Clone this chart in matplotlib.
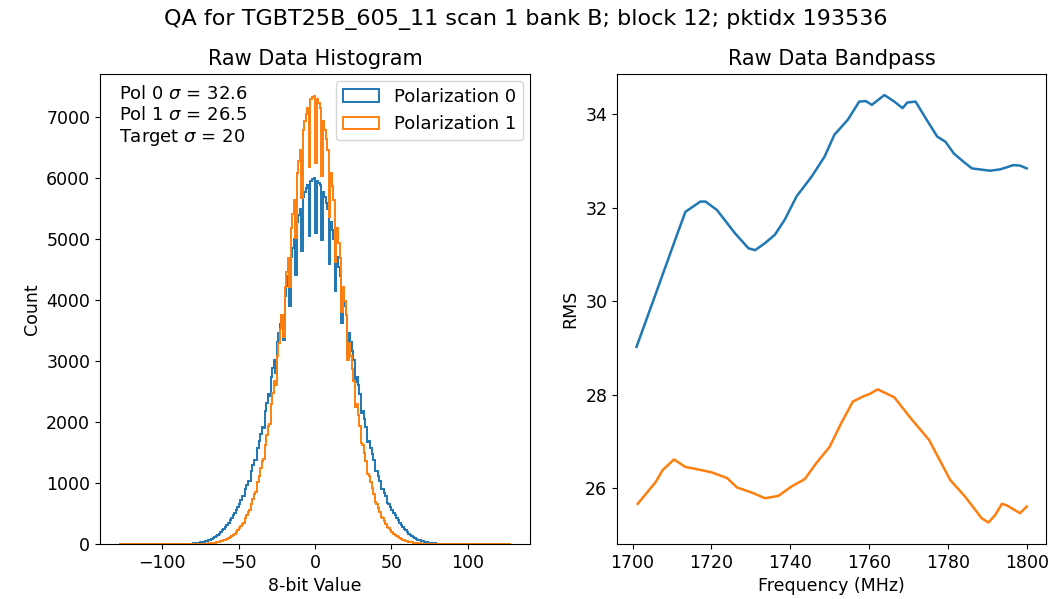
import matplotlib
matplotlib.use("Agg")
import matplotlib.pyplot as plt
import numpy as np

# 8-bit sample values -80..80 (counts outside this range are zero)
VMIN, VMAX = -80, 80
pol0_counts = [
    8, 10, 13, 16, 20, 24, 29, 35, 42, 50,
    60, 70, 80, 95, 110, 130, 150, 170, 195, 220,
    250, 280, 310, 350, 390, 430, 470, 510, 560, 610,
    660, 720, 780, 780, 900, 970, 1040, 1040, 1200, 1290,
    1380, 1380, 1580, 1690, 1800, 1920, 1900, 2180, 2320, 2460,
    2420, 2740, 2880, 3020, 2800, 3310, 3460, 3610, 3760, 3350,
    4070, 4230, 4390, 3900, 4710, 4860, 5010, 4420, 5280, 5400,
    5500, 4800, 5690, 5770, 5840, 5890, 5050, 5960, 5990, 6000,
    5100, 5960, 5930, 5890, 4980, 5770, 5690, 5600, 5500, 4600,
    5280, 5150, 5010, 4150, 4710, 4550, 4390, 3620, 4070, 3910,
    3760, 3100, 3460, 3310, 3170, 3020, 2650, 2740, 2600, 2460,
    2150, 2180, 2050, 1920, 1670, 1690, 1580, 1480, 1380, 1200,
    1200, 1120, 1040, 900, 900, 840, 780, 670, 660, 610,
    560, 510, 470, 430, 390, 350, 310, 280, 250, 220,
    195, 170, 150, 130, 110, 95, 80, 70, 60, 50,
    42, 35, 29, 24, 20, 16, 13, 10, 8, 6,
    4,
]
pol1_counts = [
    0, 0, 1, 1, 2, 2, 3, 4, 5, 6,
    8, 10, 13, 16, 20, 24, 29, 35, 42, 50,
    60, 70, 82, 95, 110, 128, 148, 170, 195, 225,
    255, 290, 330, 345, 420, 470, 530, 550, 660, 740,
    820, 850, 1010, 1120, 1240, 1360, 1390, 1630, 1780, 1940,
    1960, 2290, 2480, 2670, 2600, 3080, 3300, 3520, 3750, 3400,
    4220, 4460, 4700, 4220, 5180, 5420, 5650, 5020, 6080, 6280,
    6470, 5680, 6800, 6940, 7060, 7160, 6180, 7300, 7340, 7350,
    6250, 7300, 7240, 7160, 6030, 6940, 6800, 6640, 6470, 5360,
    6080, 5870, 5650, 4630, 5180, 4940, 4700, 3810, 4220, 3980,
    3750, 3010, 3300, 3080, 2870, 2670, 2250, 2290, 2110, 1940,
    1650, 1630, 1490, 1360, 1150, 1120, 1010, 910, 820, 690,
    660, 590, 530, 435, 420, 370, 330, 270, 255, 225,
    195, 170, 148, 128, 110, 95, 82, 70, 60, 50,
    42, 35, 29, 24, 20, 16, 13, 10, 8, 6,
    5, 4, 3, 2, 2, 1, 1, 0, 0, 0,
    0,
]
stats_text = "Pol 0 $\\sigma$ = 32.6\nPol 1 $\\sigma$ = 26.5\nTarget $\\sigma$ = 20"

# bandpass (RMS per channel)
pol0_freq = [1701.0, 1705.0, 1710.5, 1713.4, 1717.2, 1718.5, 1721.4, 1726.0, 1729.4, 1731.1,
             1733.6, 1736.1, 1738.6, 1741.6, 1745.4, 1748.7, 1751.2, 1754.6, 1757.5, 1759.2,
             1760.7, 1763.9, 1766.4, 1768.5, 1769.7, 1771.8, 1774.4, 1777.3, 1779.4, 1781.5,
             1784.0, 1786.1, 1790.7, 1793.3, 1796.6, 1798.3, 1800.0]
pol0_rms = [29.02, 29.95, 31.24, 31.91, 32.13, 32.13, 31.95, 31.45, 31.13, 31.09,
            31.24, 31.42, 31.74, 32.24, 32.66, 33.09, 33.56, 33.88, 34.27, 34.28,
            34.20, 34.41, 34.27, 34.13, 34.25, 34.27, 33.91, 33.52, 33.41, 33.16,
            32.98, 32.84, 32.79, 32.82, 32.91, 32.90, 32.84]
pol1_freq = [1701.3, 1705.9, 1707.6, 1710.5, 1713.4, 1717.6, 1720.2, 1724.0, 1726.5, 1730.3,
             1733.6, 1737.0, 1740.3, 1743.7, 1746.6, 1750.0, 1752.9, 1755.9, 1758.8, 1760.1,
             1762.2, 1766.4, 1770.6, 1775.2, 1780.6, 1784.4, 1788.6, 1790.3, 1792.0, 1793.7,
             1794.9, 1798.3, 1800.0]
pol1_rms = [25.66, 26.13, 26.38, 26.61, 26.45, 26.38, 26.33, 26.21, 26.01, 25.90,
            25.78, 25.83, 26.03, 26.19, 26.53, 26.88, 27.38, 27.85, 27.97, 28.01,
            28.11, 27.94, 27.49, 27.03, 26.17, 25.81, 25.35, 25.26, 25.42, 25.66,
            25.63, 25.46, 25.60]

edges = np.arange(-128, 129)
centers = edges[:-1]
pad_lo = [0] * (VMIN + 128)
pad_hi = [0] * (127 - VMAX)
w0 = pad_lo + pol0_counts + pad_hi
w1 = pad_lo + pol1_counts + pad_hi

FS = 12.5
fig = plt.figure(figsize=(10.52, 5.99), dpi=100)
ax1 = fig.add_axes([0.095, 0.092, 0.409, 0.785])
ax2 = fig.add_axes([0.5865, 0.092, 0.408, 0.785])

ax1.hist(centers, bins=edges, weights=w0, histtype="step", lw=1.4, label="Polarization 0")
ax1.hist(centers, bins=edges, weights=w1, histtype="step", lw=1.4, label="Polarization 1")
ax1.text(0.045, 0.975, stats_text, transform=ax1.transAxes, va="top", ha="left", fontsize=13)
ax1.legend(loc="upper right", fontsize=13, borderaxespad=0.4)
ax1.set_title("Raw Data Histogram", fontsize=15)
ax1.set_xlabel("8-bit Value", fontsize=FS)
ax1.set_ylabel("Count", fontsize=FS)
ax1.tick_params(labelsize=FS)

ax2.plot(pol0_freq, pol0_rms, lw=1.8)
ax2.plot(pol1_freq, pol1_rms, lw=1.8)
ax2.set_title("Raw Data Bandpass", fontsize=15)
ax2.set_xlabel("Frequency (MHz)", fontsize=FS)
ax2.set_ylabel("RMS", fontsize=FS)
ax2.tick_params(labelsize=FS)

fig.suptitle("QA for TGBT25B_605_11 scan 1 bank B; block 12; pktidx 193536", fontsize=16, y=0.985)
fig.savefig("out.png", dpi=100)
